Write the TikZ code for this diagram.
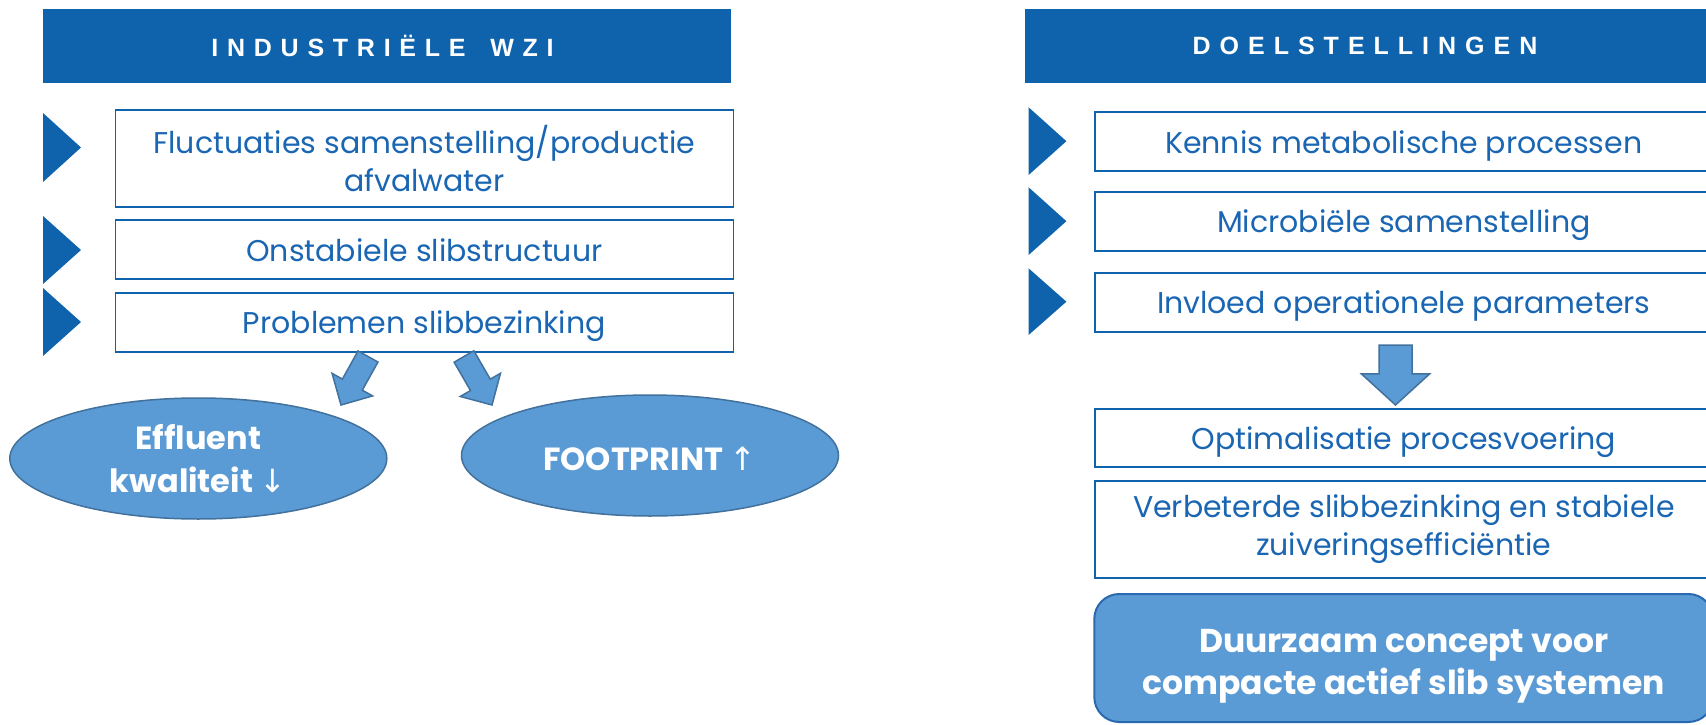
\documentclass[tikz,border=0pt]{standalone}
\usepackage{fontspec}
\setmainfont{Poppins}
\newfontfamily\hdrfontL[LetterSpace=35]{Liberation Sans Bold}
\newfontfamily\hdrfontR[LetterSpace=36]{Liberation Sans Bold}
\newfontfamily\symfont{DejaVu Sans}
\usetikzlibrary{calc,shapes.geometric}

\definecolor{hdrblue}{HTML}{0E63AC}
\definecolor{txtblue}{HTML}{1A66B3}
\definecolor{fillblue}{HTML}{5B9BD5}
\definecolor{edgeblue}{HTML}{41719C}
\definecolor{roundedge}{HTML}{2A69B0}

\tikzset{
  headerbar/.style={fill=hdrblue, minimum width=688, minimum height=74.6, inner sep=0},
  headertext/.style={inner sep=0, text=white},
  itembox/.style={draw=hdrblue, line width=1.8, fill=white, minimum width=618,
    inner sep=0, text=txtblue, align=center, font=\fontsize{30}{38}\selectfont},
  oneline/.style={text height=23.4, text depth=0},
  chevron/.style={fill=hdrblue},
  bubble/.style={ellipse, fill=fillblue, draw=edgeblue, line width=1.5,
    minimum width=377, minimum height=121, inner sep=0, text=white, align=center,
    font=\bfseries\fontsize{32}{43}\selectfont},
  goal/.style={draw=roundedge, line width=2, fill=fillblue, rounded corners=25,
    minimum width=619, minimum height=128, inner sep=0},
  goaltext/.style={text=white, align=center, inner sep=0,
    font=\bfseries\fontsize{33}{42}\selectfont},
  blockarrow/.style={fill=fillblue, draw=edgeblue, line width=1.5, line join=miter}
}

\begin{document}
\begin{tikzpicture}[x=1pt,y=-1pt]
\useasboundingbox (0,0) rectangle (1706,725);
\clip (0,0) rectangle (1706,725);

% ---- left column: industrial plant ----
\node[headerbar] (hLbar) at (387.3,46) {};
\node[headertext, font=\hdrfontL\fontsize{25}{29}\selectfont] (hL) at (382.5,46)
  {INDUSTRIËLE\hspace{9pt} WZI\hspace{-8.8pt}};

\node[itembox, minimum height=96.7] (b1) at (424.4,158.4)
  {Fluctuaties samenstelling/productie\\afvalwater};
\node[itembox, oneline, minimum height=59.3] (b2) at (424.4,249.7) {Onstabiele slibstructuur};
\node[itembox, oneline, minimum height=59]   (b3) at (424.4,322.2) {Problemen slibbezinking};

\fill[chevron] (43,113) -- (81,147.5) -- (43,182) -- cycle;
\fill[chevron] (43,216) -- (81,250)   -- (43,284) -- cycle;
\fill[chevron] (43,288) -- (81,322)   -- (43,356) -- cycle;

\node[bubble] (e1) at (198.3,458.5) {Effluent\\kwaliteit {\mdseries\symfont ↓}};
\node[bubble, text height=29, text depth=0] (e2) at (650,455.5) {FOOTPRINT {\mdseries\symfont ↑}};

% block arrows from the last box to the two consequences
\coordinate (t1) at (368,356.5);
\coordinate (p1) at (341,405);
\coordinate (t2) at (464,356.5);
\coordinate (p2) at (492,405);
\foreach \t/\p/\f in {t1/p1/0.58, t2/p2/0.585}{
  \coordinate (n) at ($(\t)!\f!(\p)$);
  \draw[blockarrow]
    ($(\t)!11.4pt!90:(\p)$) -- ($(n)!11.4pt!90:(\p)$) -- ($(n)!23.2pt!90:(\p)$)
    -- (\p) -- ($(n)!23.2pt!-90:(\p)$) -- ($(n)!11.4pt!-90:(\p)$)
    -- ($(\t)!11.4pt!-90:(\p)$) -- cycle;
}

% ---- right column: objectives ----
\node[headerbar] (hRbar) at (1369,46) {};
\node[headertext, font=\hdrfontR\fontsize{25}{29}\selectfont] (hR) at (1365,46)
  {DOELSTELLINGEN\hspace{-9pt}};

\node[itembox, oneline, minimum height=58.7] (k) at (1403.8,141.7) {Kennis metabolische processen};
\node[itembox, oneline, minimum height=59]   (m) at (1403.8,221.2) {Microbiële samenstelling};
\node[itembox, oneline, minimum height=59]   (i) at (1403.8,302.2) {Invloed operationele parameters};

\fill[chevron] (1028.6,107.3) -- (1066.4,141.2) -- (1028.6,175) -- cycle;
\fill[chevron] (1028.6,187.3) -- (1066.4,221.2) -- (1028.6,255) -- cycle;
\fill[chevron] (1028.6,268.3) -- (1066.4,301.7) -- (1028.6,335) -- cycle;

\node[itembox, oneline, minimum height=58] (o) at (1403.8,438) {Optimalisatie procesvoering};
\node[itembox, minimum height=97.6] (v) at (1403.8,529.5)
  {Verbeterde slibbezinking en stabiele\\zuiveringsefficiëntie};
\node[goal] (g) at (1403.8,658) {};
\node[goaltext] (gt) at (1403.8,666) {Duurzaam concept voor\\compacte actief slib systemen};

% downward block arrow between parameters and optimisation
\coordinate (t3) at (1395.5,345);
\coordinate (p3) at (1395.5,405);
\coordinate (n3) at ($(t3)!0.483!(p3)$);
\draw[blockarrow]
  ($(t3)!16.5pt!90:(p3)$) -- ($(n3)!16.5pt!90:(p3)$) -- ($(n3)!34pt!90:(p3)$)
  -- (p3) -- ($(n3)!34pt!-90:(p3)$) -- ($(n3)!16.5pt!-90:(p3)$)
  -- ($(t3)!16.5pt!-90:(p3)$) -- cycle;
\end{tikzpicture}
\end{document}
